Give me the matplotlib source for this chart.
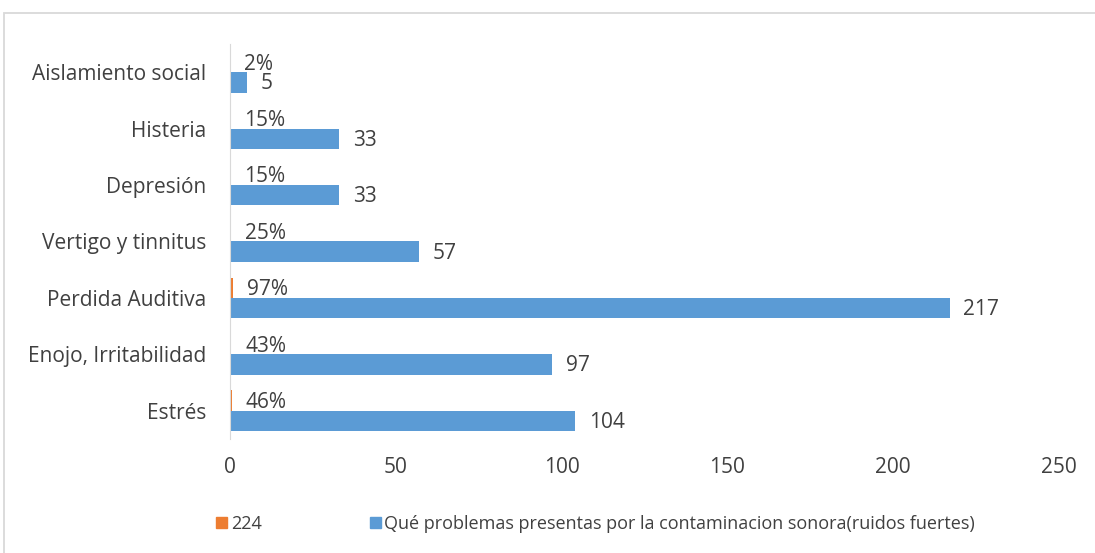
import matplotlib.pyplot as plt
from matplotlib.patches import Rectangle, Patch

# Data
categories = ["Estrés", "Enojo, Irritabilidad", "Perdida Auditiva",
              "Vertigo y tinnitus", "Depresión", "Histeria", "Aislamiento social"]
counts = [104, 97, 217, 57, 33, 33, 5]
shares = [0.46, 0.43, 0.97, 0.25, 0.15, 0.15, 0.02]
share_labels = ["46%", "43%", "97%", "25%", "15%", "15%", "2%"]
series_names = ["224", "Qué problemas presentas por la contaminacion sonora(ruidos fuertes)"]

BLUE = "#5B9BD5"
ORANGE = "#ED7D31"
TXT = "#404040"

plt.rcParams['font.family'] = ['Open Sans', 'DejaVu Sans']

fig = plt.figure(figsize=(10.95, 5.53), dpi=100)
ax = fig.add_axes([230 / 1095, 1 - 439 / 553, 829 / 1095, 395 / 553])

# outer chart border
fig.patches.append(Rectangle((4 / 1095, -0.1), 1.2, 1 - 13 / 553 + 0.1,
                             transform=fig.transFigure, fill=False,
                             edgecolor="#D9D9D9", linewidth=1.3))

y = list(range(len(categories)))
h = 0.36
ax.barh([v + h / 2 for v in y], shares, height=h, color=ORANGE)
ax.barh([v - h / 2 for v in y], counts, height=h, color=BLUE)

for i in y:
    ax.annotate(share_labels[i], (shares[i], i + h / 2), xytext=(10, -1.5),
                textcoords="offset points", va="center", ha="left",
                fontsize=15, color=TXT)
    ax.annotate(str(counts[i]), (counts[i], i - h / 2), xytext=(10, -1),
                textcoords="offset points", va="center", ha="left",
                fontsize=15, color=TXT)

ax.set_xlim(0, 250)
ax.set_ylim(-0.5, len(categories) - 0.5)
ax.set_xticks([0, 50, 100, 150, 200, 250])
ax.set_yticks(y)
ax.set_yticklabels(categories)
ax.tick_params(axis="x", length=0, pad=13, labelsize=15, labelcolor=TXT)
ax.tick_params(axis="y", length=0, pad=17, labelsize=15, labelcolor=TXT)
for s in ["top", "right", "bottom"]:
    ax.spines[s].set_visible(False)
ax.spines["left"].set_color("#D9D9D9")

handles = [Patch(color=ORANGE), Patch(color=BLUE)]
fig.legend(handles, series_names, loc="center", bbox_to_anchor=(0.544, 0.053),
           ncol=2, frameon=False, fontsize=13, handlelength=0.6,
           handleheight=0.6, handletextpad=0.2, columnspacing=6.0,
           labelcolor=TXT)

fig.savefig("out.png", dpi=100)
